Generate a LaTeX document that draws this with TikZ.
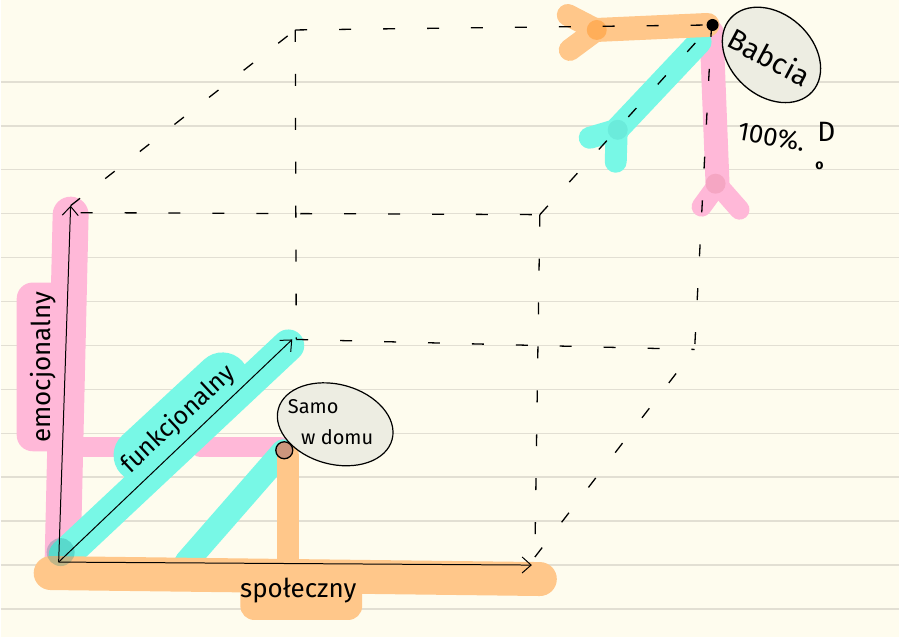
\documentclass[tikz,border=0pt]{standalone}
\usepackage{fontspec}
\setmainfont{Fira Sans}
\usetikzlibrary{arrows.meta,shapes.geometric}
\definecolor{paper}{HTML}{FEFCEE}
\definecolor{ruleline}{HTML}{E2DFD3}
\definecolor{hpink}{HTML}{FFB8D8}
\definecolor{hcyan}{HTML}{78F8E6}
\definecolor{horange}{HTML}{FFC78A}
\definecolor{bubble}{HTML}{EDEDE2}
\definecolor{ptfill}{RGB}{205,150,125}
\begin{document}
\begin{tikzpicture}[x=1pt,y=-1pt,
  hl/.style={line width=#1,line cap=round,line join=round},
  hl/.default=30pt,
  cubedash/.style={line width=1.3pt,dash pattern=on 12pt off 32pt},
  axis/.style={line width=1pt,-{Straight Barb[length=9pt,width=16pt]}},
  lbl/.style={font=\fontsize{26}{28}\selectfont,inner sep=0pt}]
\fill[paper] (0,0) rectangle (900,638);
\foreach \y in {82,126,...,610} \draw[ruleline,line width=1.5pt] (0,\y) -- (900,\y);
\useasboundingbox (0,0) rectangle (900,638);

% cube vertices
\coordinate (O) at (58,563);
\coordinate (X) at (532,566);
\coordinate (Y) at (70,206);
\coordinate (Z) at (292,340);
\coordinate (FTL) at (80,213);
\coordinate (FTR) at (540,215);
\coordinate (FBR) at (535,558);
\coordinate (BBL) at (296,340);
\coordinate (BBR) at (695,350);
\coordinate (BTL) at (295,30);
\coordinate (BTR) at (712,25);

% highlighter: pink
\draw[hpink,hl=36pt] (62,560) -- (70,215);
\fill[hpink,rounded corners=16pt] (16,283) rectangle (80,452);
\draw[hpink,hl=20pt] (75,448) -- (118,448);
\draw[hpink,hl=20pt] (200,448) -- (280,448);
\draw[hpink,hl=24pt] (712,32) -- (718,185);
\draw[hpink,hl=20pt] (718,185) -- (702,207);
\draw[hpink,hl=20pt] (718,185) -- (740,210);
\fill[hpink!80!red!90!black,opacity=.35] (716,184) circle (10pt);

% highlighter: cyan
\draw[hcyan,hl=32pt] (64,556) -- (288,346);
\draw[hcyan,line width=54pt,line cap=round] (140,456) -- (222,380);
\draw[hcyan,hl=24pt] (186,563) -- (283,452);
\draw[hcyan,hl=24pt] (700,42) -- (617,130);
\draw[hcyan,hl=22pt] (617,130) -- (590,138);
\draw[hcyan,hl=22pt] (617,130) -- (616,162);
\fill[hcyan!70!teal,opacity=.35] (618,130) circle (10pt);

% highlighter: orange
\draw[horange,hl=34pt] (50,574) -- (540,580);
\fill[horange,rounded corners=14pt] (240,574) rectangle (362,621);
\draw[horange,hl=22pt] (288,456) -- (288,560);
\draw[horange,hl=24pt] (597,30) -- (708,25);
\draw[horange,hl=22pt] (597,30) -- (568,15);
\draw[horange,hl=22pt] (597,30) -- (570,50);
\fill[orange,opacity=.35] (597,30) circle (10pt);
\fill[teal,opacity=.25] (60,553) circle (14pt);

% dashed cube edges
\draw[cubedash] (FTL) -- (FTR);
\draw[cubedash] (Y) -- (BTL);
\draw[cubedash] (BTL) -- (BTR);
\draw[cubedash] (BTL) -- (BBL);
\draw[cubedash] (BBL) -- (BBR);
\draw[cubedash] (FTR) -- (FBR);
\draw[cubedash] (FTR) -- (BTR);
\draw[cubedash] (FBR) -- (BBR);
\draw[cubedash] (BTR) -- (BBR);

% axes
\draw[axis] (O) -- (Y);
\draw[axis] (O) -- (Z);
\draw[axis] (O) -- (X);

% labels
\node[lbl,rotate=90] (emo) at (42,368) {emocjonalny};
\node[lbl,rotate=43,font=\fontsize{25}{27}\selectfont] (fun) at (178,420) {funkcjonalny};
\node[lbl] (spo) at (298,592) {społeczny};

% Samo w domu
\node[ellipse,draw,line width=1.2pt,fill=bubble,minimum width=118pt,minimum height=80pt,rotate=-15] (samo) at (335,425) {};
\node[font=\fontsize{20}{22}\selectfont,inner sep=0pt] (samot) at (313,407) {Samo};
\node[font=\fontsize{20}{22}\selectfont,inner sep=0pt] (domut) at (337,438) {w domu};
\node[circle,draw,line width=1.3pt,fill=ptfill,minimum size=17pt,inner sep=0pt] (pt) at (284,451) {};

% Babcia
\node[ellipse,draw,line width=1.3pt,fill=bubble,minimum width=110pt,minimum height=82pt,rotate=-42] (bab) at (772,55) {};
\node[font=\fontsize{29}{31}\selectfont,inner sep=0pt,rotate=-28] (babt) at (770,57) {Babcia};
\fill (713,25) circle (6pt);
\node[font=\fontsize{26}{28}\selectfont,inner sep=0pt,rotate=-10] (pct) at (772,137) {100\%.};
\node[font=\fontsize{28}{30}\selectfont,inner sep=0pt] (dd) at (827,132) {D};
\node[font=\fontsize{14}{16}\selectfont\bfseries,inner sep=0pt] (oo) at (820,166) {o};
\end{tikzpicture}
\end{document}
